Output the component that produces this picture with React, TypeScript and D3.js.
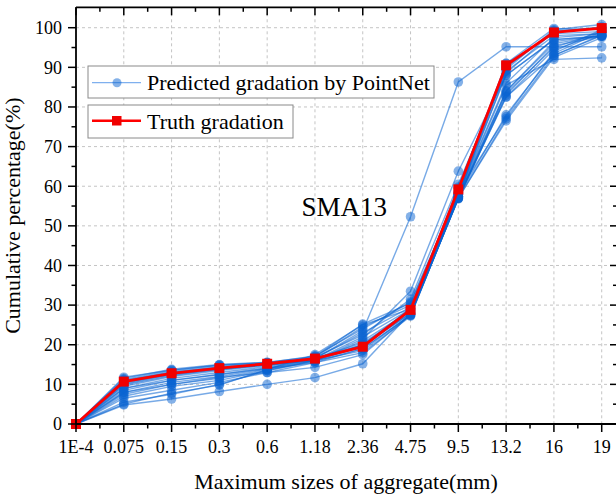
import React from "react";
import * as d3 from "d3";

const categories = ["1E-4", "0.075", "0.15", "0.3", "0.6", "1.18", "2.36", "4.75", "9.5", "13.2", "16", "19"];
const yTicks = [0, 10, 20, 30, 40, 50, 60, 70, 80, 90, 100];

const truth = [0, 10.7, 12.8, 14.1, 15.2, 16.5, 19.5, 28.8, 59.2, 90.5, 98.8, 99.9];

const pred01 = [0, 11.5, 13.8, 15.0, 15.6, 17.0, 25.2, 30.5, 58.0, 89.5, 99.5, 100.8];
const pred02 = [0, 11.2, 13.5, 14.8, 15.4, 16.8, 24.5, 30.0, 57.5, 88.5, 99.0, 100.2];
const pred03 = [0, 10.8, 13.2, 14.5, 15.3, 16.5, 23.0, 29.5, 57.8, 90.0, 99.2, 99.8];
const pred04 = [0, 10.2, 12.8, 14.0, 15.0, 16.2, 22.0, 29.0, 58.5, 91.0, 98.5, 99.0];
const pred05 = [0, 9.5, 12.0, 13.5, 14.8, 16.0, 21.0, 28.5, 58.0, 86.0, 97.5, 98.5];
const pred06 = [0, 9.0, 11.5, 13.0, 14.5, 16.5, 20.5, 28.0, 57.0, 84.0, 96.5, 98.0];
const pred07 = [0, 8.5, 11.0, 12.5, 14.2, 16.0, 20.0, 27.8, 56.8, 83.0, 95.5, 97.8];
const pred08 = [0, 8.0, 10.5, 12.0, 14.0, 15.5, 19.0, 27.5, 57.0, 82.5, 94.5, 98.5];
const pred09 = [0, 7.5, 10.0, 11.5, 13.8, 16.0, 19.5, 28.0, 57.5, 78.0, 93.5, 99.0];
const pred10 = [0, 7.0, 9.5, 11.0, 13.5, 15.8, 19.0, 27.5, 57.0, 77.0, 93.0, 98.0];
const pred11 = [0, 5.5, 7.5, 10.0, 13.5, 16.0, 18.5, 27.5, 57.0, 76.5, 92.5, 97.5];
const pred12 = [0, 5.0, 7.8, 9.8, 13.8, 17.5, 25.0, 29.0, 58.5, 77.5, 94.0, 99.5];
const pred13 = [0, 4.8, 6.3, 8.2, 10.0, 11.7, 15.2, 28.0, 57.5, 84.0, 96.0, 98.0];
const pred14 = [0, 6.5, 8.5, 10.5, 13.0, 14.3, 17.5, 27.5, 57.0, 83.5, 95.0, 99.0];
const pred15 = [0, 9.0, 11.0, 12.5, 14.0, 16.5, 23.5, 52.3, 86.3, 95.2, 95.2, 95.2];
const pred16 = [0, 10.0, 12.5, 13.8, 15.0, 16.0, 21.5, 33.5, 63.8, 88.0, 97.0, 98.0];
const pred17 = [0, 10.5, 12.5, 14.0, 15.0, 16.5, 20.0, 29.0, 57.5, 85.5, 92.0, 92.4];
const pred18 = [0, 11.0, 13.0, 14.3, 15.2, 16.6, 19.8, 29.2, 59.5, 91.0, 99.8, 99.5];
const pred19 = [0, 10.6, 12.9, 14.2, 15.1, 16.4, 19.4, 28.6, 59.8, 90.3, 98.8, 100.0];
const pred20 = [0, 9.8, 12.2, 13.8, 14.9, 16.8, 22.5, 31.5, 60.5, 89.0, 98.0, 98.5];
const pred21 = [0, 11.8, 13.6, 14.9, 15.5, 17.2, 24.0, 30.8, 58.2, 88.0, 97.0, 97.8];
const pred22 = [0, 8.0, 10.0, 11.8, 13.0, 15.5, 18.0, 27.2, 57.2, 82.5, 93.0, 98.2];

const predicted = [pred01, pred02, pred03, pred04, pred05, pred06, pred07, pred08, pred09, pred10, pred11,
  pred12, pred13, pred14, pred15, pred16, pred17, pred18, pred19, pred20, pred21, pred22];

const W = 616;
const H = 496;
const FONT = "'Liberation Serif', 'Times New Roman', serif";

export default function App() {
  const x = d3.scaleLinear().domain([0, 11.32]).range([76, 617]);
  const y = d3.scaleLinear().domain([0, 105.15]).range([424, 7.3]);
  const line = d3.line<number>().x((_, i) => x(i)).y((d) => y(d));
  const blue = "#0a64d2";
  const xMinor = d3.range(0, categories.length - 1).map((i) => i + 0.5);
  const yMinor = d3.range(5, 105, 10);
  const top = y.range()[1];
  const bottom = y.range()[0];
  const left = x.range()[0];
  const right = x.range()[1];

  return (
    <svg width={W} height={H} style={{ position: "absolute", left: 0, top: 0, background: "#fff" }} fontFamily={FONT}>
      <rect x={0} y={0} width={W} height={H} fill="#fff" />
      {categories.map((c, i) => i > 0 ? (
        <line key={"gx" + c} x1={x(i)} x2={x(i)} y1={top} y2={bottom} stroke="#c4c4c4" strokeDasharray="3,3" strokeWidth={1} />
      ) : null)}
      {yTicks.filter((t) => t > 0).map((t) => (
        <line key={"gy" + t} x1={left} x2={right} y1={y(t)} y2={y(t)} stroke="#c4c4c4" strokeDasharray="3,3" strokeWidth={1} />
      ))}
      {predicted.map((s, k) => (
        <g key={"p" + k}>
          <path d={line(s) || ""} fill="none" stroke={blue} strokeOpacity={0.55} strokeWidth={1.4} />
          {s.map((v, i) => (
            <circle key={i} cx={x(i)} cy={y(v)} r={4.8} fill={blue} fillOpacity={0.5} />
          ))}
        </g>
      ))}
      <path d={line(truth) || ""} fill="none" stroke="#ff0000" strokeWidth={2.8} />
      {truth.map((v, i) => (
        <rect key={"t" + i} x={x(i) - 5} y={y(v) - 5} width={10} height={10} fill="#f00000" />
      ))}
      <line x1={left} x2={left} y1={top} y2={bottom} stroke="#000" strokeWidth={1.8} />
      <line x1={left} x2={right} y1={bottom} y2={bottom} stroke="#000" strokeWidth={1.8} />
      <line x1={left} x2={right} y1={top} y2={top} stroke="#000" strokeWidth={1.8} />
      <line x1={right} x2={right} y1={top} y2={bottom} stroke="#000" strokeWidth={1.8} />
      {categories.map((c, i) => (
        <g key={"xt" + c}>
          <line x1={x(i)} x2={x(i)} y1={bottom} y2={bottom + 8} stroke="#000" strokeWidth={1.5} />
          <line x1={x(i)} x2={x(i)} y1={top} y2={top + 8} stroke="#000" strokeWidth={1.5} />
          <text x={x(i)} y={453} textAnchor="middle" fontSize={18} fill="#000">{c}</text>
        </g>
      ))}
      {xMinor.map((m) => (
        <g key={"xm" + m}>
          <line x1={x(m)} x2={x(m)} y1={bottom} y2={bottom + 4.5} stroke="#000" strokeWidth={1.5} />
          <line x1={x(m)} x2={x(m)} y1={top} y2={top + 4.5} stroke="#000" strokeWidth={1.5} />
        </g>
      ))}
      {yTicks.map((t) => (
        <g key={"yt" + t}>
          <line x1={left - 8} x2={left} y1={y(t)} y2={y(t)} stroke="#000" strokeWidth={1.5} />
          <line x1={right - 7} x2={right} y1={y(t)} y2={y(t)} stroke="#000" strokeWidth={1.5} />
          <text x={62} y={y(t)} dy="0.35em" textAnchor="end" fontSize={18} fill="#000">{t}</text>
        </g>
      ))}
      {yMinor.map((m) => (
        <g key={"ym" + m}>
          <line x1={left - 4.5} x2={left} y1={y(m)} y2={y(m)} stroke="#000" strokeWidth={1.5} />
          <line x1={right - 4} x2={right} y1={y(m)} y2={y(m)} stroke="#000" strokeWidth={1.5} />
        </g>
      ))}
      <text x={346} y={489} textAnchor="middle" fontSize={22} fill="#000">Maximum sizes of aggregate(mm)</text>
      <text transform={`translate(20,${(top + bottom) / 2}) rotate(-90)`} textAnchor="middle" fontSize={22} fill="#000">Cumulative percentage(%)</text>
      <text x={301.5} y={216} fontSize={27} fill="#000">SMA13</text>
      <rect x={88} y={66} width={346} height={32} fill="#fff" stroke="#8a8a8a" strokeWidth={1} />
      <line x1={92} x2={141} y1={82.7} y2={82.7} stroke="#7fb0ee" strokeWidth={1.2} />
      <circle cx={117} cy={82.7} r={4.5} fill={blue} fillOpacity={0.5} />
      <text x={147} y={90} fontSize={22} fill="#000">Predicted gradation by PointNet</text>
      <rect x={88} y={105} width={205} height={33} fill="#fff" stroke="#8a8a8a" strokeWidth={1} />
      <line x1={92} x2={141} y1={120.7} y2={120.7} stroke="#ff0000" strokeWidth={2.5} />
      <rect x={112} y={116} width={9.5} height={9.5} fill="#f00000" />
      <text x={147} y={128.5} fontSize={22} fill="#000">Truth gradation</text>
    </svg>
  );
}
